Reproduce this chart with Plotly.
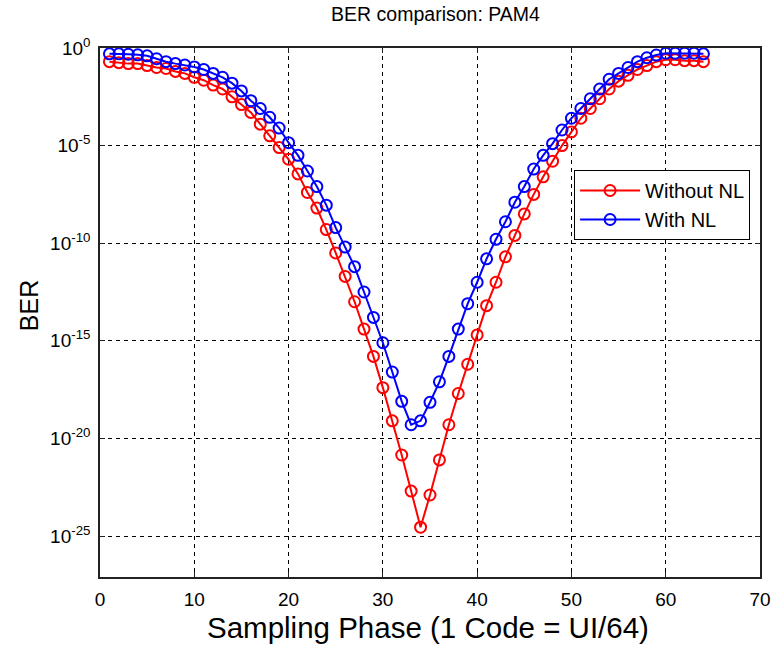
import plotly.graph_objects as go

# Sampling phase codes
phase = list(range(1, 65))

# log10(BER)
log_ber_without_nl = [
    -0.70, -0.75, -0.80, -0.80, -0.90, -1.00, -1.05, -1.20, -1.30, -1.50,
    -1.65, -1.90, -2.10, -2.50, -2.90, -3.30, -3.90, -4.50, -5.10, -5.70,
    -6.45, -7.40, -8.20, -9.30, -10.50, -11.70, -13.00, -14.40, -15.80, -17.40,
    -19.10, -20.85, -22.70, -24.55, -22.90, -21.10, -19.30, -17.70, -16.20, -14.70,
    -13.20, -12.00, -10.70, -9.60, -8.50, -7.50, -6.60, -5.80, -5.00, -4.30,
    -3.60, -3.10, -2.60, -2.10, -1.70, -1.40, -1.10, -0.90, -0.70, -0.60,
    -0.60, -0.65, -0.65, -0.70,
]
log_ber_with_nl = [
    -0.30, -0.30, -0.32, -0.35, -0.40, -0.55, -0.70, -0.80, -0.87, -0.97,
    -1.10, -1.30, -1.50, -1.80, -2.20, -2.70, -3.10, -3.55, -4.10, -4.85,
    -5.50, -6.30, -7.10, -8.05, -9.20, -10.20, -11.20, -12.50, -13.80, -15.10,
    -16.60, -18.10, -19.30, -19.10, -18.15, -17.10, -15.80, -14.40, -13.10, -12.00,
    -10.80, -9.80, -8.90, -7.90, -7.10, -6.20, -5.50, -4.90, -4.20, -3.60,
    -3.10, -2.60, -2.10, -1.60, -1.30, -1.00, -0.70, -0.50, -0.36, -0.27,
    -0.27, -0.27, -0.27, -0.30,
]
ber_without_nl = [10 ** v for v in log_ber_without_nl]
ber_with_nl = [10 ** v for v in log_ber_with_nl]

series_names = ["Without NL", "With NL"]
x_ticks = [0, 10, 20, 30, 40, 50, 60, 70]
y_exponents = [0, -5, -10, -15, -20, -25]
y_tickvals = [10 ** e for e in y_exponents]
y_ticktext = ["10<sup>%d</sup>" % e for e in y_exponents]

FONT = "Liberation Sans, Arial, sans-serif"

fig = go.Figure()
for name, vals, col in [(series_names[0], ber_without_nl, "#ff0000"),
                        (series_names[1], ber_with_nl, "#0000ff")]:
    fig.add_trace(go.Scatter(
        x=phase, y=vals, name=name, mode="lines+markers",
        line=dict(color=col, width=2),
        marker=dict(symbol="circle-open", size=11, color=col,
                    line=dict(color=col, width=2)),
    ))

fig.update_layout(
    width=783, height=645,
    margin=dict(l=100, r=12, t=48, b=68),
    paper_bgcolor="white", plot_bgcolor="white",
    font=dict(family=FONT, color="black", size=17),
    title=dict(text="BER comparison: PAM4", x=0.5562, xanchor="center",
               y=1 - 14 / 645, yanchor="middle", yref="container",
               font=dict(size=19.5, family=FONT, color="black")),
    showlegend=True,
    legend=dict(x=(582 - 100) / 671, y=1 - (170 - 48) / 529,
                xanchor="left", yanchor="top",
                bgcolor="white", bordercolor="black", borderwidth=1,
                font=dict(size=20, family=FONT, color="black"),
                itemwidth=60, entrywidth=170, entrywidthmode="pixels",
                tracegroupgap=2),
)

fig.update_xaxes(
    range=[0, 70], tickvals=x_ticks, ticks="inside", ticklen=5,
    tickcolor="#222", showline=True, linecolor="#222", linewidth=1.5,
    mirror="ticks", showgrid=True, gridcolor="black", gridwidth=1,
    griddash="4px,4px", zeroline=False, ticklabelstandoff=4,
    tickfont=dict(size=19, family=FONT, color="black"),
)
fig.update_yaxes(
    type="log", range=[-27.1, 0], tickvals=y_tickvals, ticktext=y_ticktext,
    ticks="inside", ticklen=5, tickcolor="#222", showline=True,
    linecolor="#222", linewidth=1.5, mirror="ticks", showgrid=True,
    gridcolor="black", gridwidth=1, griddash="4px,4px", zeroline=False,
    ticklabelstandoff=4,
    tickfont=dict(size=19, family=FONT, color="black"),
)

fig.add_annotation(text="Sampling Phase (1 Code = UI/64)", xref="paper", yref="paper",
                   x=(433 - 100) / 671, y=-(627 - 577) / 529, xanchor="center", yanchor="middle",
                   showarrow=False, font=dict(size=29.5, family=FONT, color="black"))
fig.add_annotation(text="BER", xref="paper", yref="paper",
                   x=-(100 - 28) / 671, y=1 - (306 - 48) / 529, textangle=-90,
                   xanchor="center", yanchor="middle",
                   showarrow=False, font=dict(size=25, family=FONT, color="black"))

fig.write_html("out.html")
